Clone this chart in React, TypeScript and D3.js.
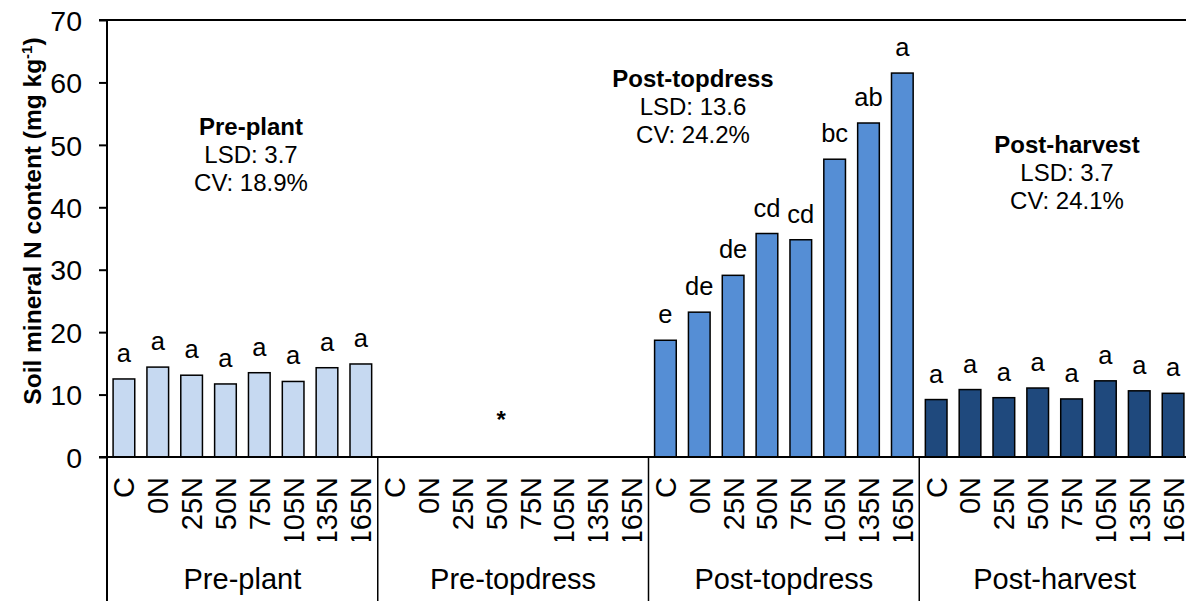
import React, { useEffect, useRef } from 'react';
import * as d3 from 'd3';

// Sampling periods and N treatments
const periods = ['Pre-plant', 'Pre-topdress', 'Post-topdress', 'Post-harvest'];
const treatments = ['C', '0N', '25N', '50N', '75N', '105N', '135N', '165N'];

const prePlant = [12.5, 14.4, 13.1, 11.7, 13.5, 12.1, 14.3, 14.9];
const preTopdress: (number | null)[] = [null, null, null, null, null, null, null, null];
const postTopdress = [18.7, 23.2, 29.1, 35.8, 34.8, 47.7, 53.5, 61.5];
const postHarvest = [9.2, 10.8, 9.5, 11.05, 9.3, 12.2, 10.6, 10.2];

const prePlantLetters = ['a', 'a', 'a', 'a', 'a', 'a', 'a', 'a'];
const postTopdressLetters = ['e', 'de', 'de', 'cd', 'cd', 'bc', 'ab', 'a'];
const postHarvestLetters = ['a', 'a', 'a', 'a', 'a', 'a', 'a', 'a'];

const annotations = [
  { period: 'Pre-plant', title: 'Pre-plant', lsd: 'LSD: 3.7', cv: 'CV: 18.9%' },
  { period: 'Post-topdress', title: 'Post-topdress', lsd: 'LSD: 13.6', cv: 'CV: 24.2%' },
  { period: 'Post-harvest', title: 'Post-harvest', lsd: 'LSD: 3.7', cv: 'CV: 24.1%' },
];

const yTicks = [0, 10, 20, 30, 40, 50, 60, 70];

const colors: Record<string, string> = {
  'Pre-plant': '#C6D9F1',
  'Pre-topdress': '#C6D9F1',
  'Post-topdress': '#558ED5',
  'Post-harvest': '#1F497D',
};

const FONT = '"Liberation Sans", Arial, sans-serif';

const App: React.FC = () => {
  const svgRef = useRef<SVGSVGElement>(null);

  useEffect(() => {
    if (!svgRef.current) return;
    const width = 1186;
    const height = 601;
    const left = 107;
    const right = 1190;
    const top = 20;
    const bottom = 457;

    const svg = d3.select(svgRef.current);
    svg.selectAll('*').remove();

    const seriesValues = [prePlant, preTopdress, postTopdress, postHarvest];
    const seriesLetters = [prePlantLetters, null, postTopdressLetters, postHarvestLetters];

    const rows = periods.flatMap((p, gi) =>
      treatments.map((t, ti) => ({
        key: `${p}|${t}`,
        period: p,
        treatment: t,
        value: seriesValues[gi][ti],
        letter: seriesLetters[gi] ? (seriesLetters[gi] as string[])[ti] : null,
      }))
    );

    const x = d3.scaleBand<string>()
      .domain(rows.map(d => d.key))
      .range([left, right])
      .paddingInner(0.36)
      .paddingOuter(0.18);

    const y = d3.scaleLinear().domain([0, 70]).range([bottom, top]);

    const step = x.step();
    const groupStart = (gi: number) => left + gi * 8 * step;

    svg.attr('width', width).attr('height', height);

    const defs = svg.append('defs');
    defs.append('clipPath')
      .attr('id', 'tick-clip')
      .append('rect')
      .attr('x', 0)
      .attr('y', bottom)
      .attr('width', width)
      .attr('height', 541 - bottom);

    // bars
    svg.append('g')
      .selectAll('rect')
      .data(rows.filter(d => d.value != null))
      .enter()
      .append('rect')
      .attr('x', d => x(d.key)!)
      .attr('y', d => y(d.value as number))
      .attr('width', x.bandwidth())
      .attr('height', d => bottom - y(d.value as number))
      .attr('fill', d => colors[d.period])
      .attr('stroke', '#000')
      .attr('stroke-width', 1.5);

    // significance letters
    svg.append('g')
      .selectAll('text')
      .data(rows.filter(d => d.value != null && d.letter))
      .enter()
      .append('text')
      .attr('x', d => x(d.key)! + x.bandwidth() / 2)
      .attr('y', d => y(d.value as number) - 17)
      .attr('text-anchor', 'middle')
      .attr('font-family', FONT)
      .attr('font-size', 25.5)
      .attr('fill', '#000')
      .text(d => d.letter as string);

    // y axis
    const yAxis = svg.append('g')
      .attr('transform', `translate(${left},0)`)
      .call(d3.axisLeft(y).tickValues(yTicks).tickSize(8).tickSizeOuter(0).tickPadding(17));
    yAxis.select('.domain').remove();
    yAxis.selectAll('.tick line').attr('stroke', '#000').attr('stroke-width', 2);
    yAxis.selectAll('.tick text')
      .attr('font-family', FONT)
      .attr('font-size', 28.5)
      .attr('fill', '#000')
      .attr('dy', '0.36em');

    // frame lines
    svg.append('line')
      .attr('x1', left - 8).attr('x2', width)
      .attr('y1', y(70)).attr('y2', y(70))
      .attr('stroke', '#000').attr('stroke-width', 2);
    svg.append('line')
      .attr('x1', left - 8).attr('x2', width)
      .attr('y1', bottom).attr('y2', bottom)
      .attr('stroke', '#000').attr('stroke-width', 2);
    svg.append('line')
      .attr('x1', left).attr('x2', left)
      .attr('y1', top).attr('y2', height)
      .attr('stroke', '#000').attr('stroke-width', 2);

    // group separators
    svg.append('g')
      .selectAll('line')
      .data([1, 2, 3])
      .enter()
      .append('line')
      .attr('x1', d => groupStart(d)).attr('x2', d => groupStart(d))
      .attr('y1', bottom).attr('y2', height)
      .attr('stroke', '#000').attr('stroke-width', 1.5);

    // treatment labels (rotated, clipped like the original)
    svg.append('g')
      .attr('clip-path', 'url(#tick-clip)')
      .selectAll('text')
      .data(rows)
      .enter()
      .append('text')
      .attr('transform', d => `translate(${x(d.key)! + x.bandwidth() / 2},${bottom + 20}) rotate(-90)`)
      .attr('text-anchor', 'end')
      .attr('dy', '0.36em')
      .attr('font-family', FONT)
      .attr('font-size', 29)
      .attr('fill', '#000')
      .text(d => d.treatment);

    // period labels
    svg.append('g')
      .selectAll('text')
      .data(periods)
      .enter()
      .append('text')
      .attr('x', (d, i) => groupStart(i) + 4 * step)
      .attr('y', 589)
      .attr('text-anchor', 'middle')
      .attr('font-family', FONT)
      .attr('font-size', 29)
      .attr('fill', '#000')
      .text(d => d);

    // asterisk for missing Pre-topdress data
    svg.append('text')
      .attr('x', x('Pre-topdress|50N')! + x.bandwidth() / 2 + 5)
      .attr('y', 428)
      .attr('text-anchor', 'middle')
      .attr('font-family', FONT)
      .attr('font-weight', 'bold')
      .attr('font-size', 24)
      .attr('fill', '#000')
      .text('*');

    // LSD / CV annotations
    const annPos: Record<string, { cx: number; y0: number }> = {
      'Pre-plant': { cx: 251, y0: 135 },
      'Post-topdress': { cx: 693, y0: 87 },
      'Post-harvest': { cx: 1067, y0: 153 },
    };
    annotations.forEach(a => {
      const pos = annPos[a.period];
      const t = svg.append('text')
        .attr('text-anchor', 'middle')
        .attr('font-family', FONT)
        .attr('font-size', 24)
        .attr('fill', '#000');
      t.append('tspan').attr('x', pos.cx).attr('y', pos.y0).attr('font-weight', 'bold').text(a.title);
      t.append('tspan').attr('x', pos.cx).attr('y', pos.y0 + 28).text(a.lsd);
      t.append('tspan').attr('x', pos.cx).attr('y', pos.y0 + 56).text(a.cv);
    });

    // y-axis title
    const title = svg.append('text')
      .attr('transform', 'translate(41,221) rotate(-90)')
      .attr('text-anchor', 'middle')
      .attr('font-family', FONT)
      .attr('font-weight', 'bold')
      .attr('font-size', 24.5)
      .attr('fill', '#000');
    title.append('tspan').text('Soil mineral N content (mg kg');
    title.append('tspan').attr('font-size', 15).attr('dy', -9).text('-1');
    title.append('tspan').attr('dy', 9).text(')');
  }, []);

  return (
    <div style={{ position: 'absolute', left: 0, top: 0, width: 1186, height: 601, overflow: 'hidden', background: '#fff' }}>
      <svg ref={svgRef} style={{ display: 'block' }}></svg>
    </div>
  );
};

export default App;
